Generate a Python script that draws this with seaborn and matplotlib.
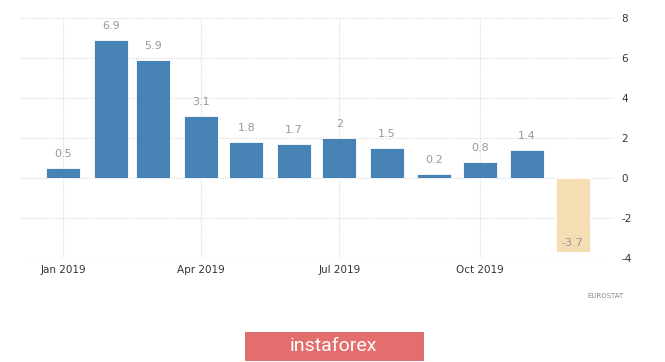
import matplotlib
matplotlib.use("Agg")
import matplotlib.pyplot as plt
import matplotlib.dates as mdates
from matplotlib.patches import Rectangle
import seaborn as sns
import pandas as pd
import numpy as np

months = ["2019-01-01", "2019-02-01", "2019-03-01", "2019-04-01", "2019-05-01", "2019-06-01",
          "2019-07-01", "2019-08-01", "2019-09-01", "2019-10-01", "2019-11-01", "2019-12-01"]
values = [0.5, 6.9, 5.9, 3.1, 1.8, 1.7, 2.0, 1.5, 0.2, 0.8, 1.4, -3.7]
labels = ["0.5", "6.9", "5.9", "3.1", "1.8", "1.7", "2", "1.5", "0.2", "0.8", "1.4", "-3.7"]
tick_dates = ["2019-01-01", "2019-04-01", "2019-07-01", "2019-10-01"]
tick_labels = ["Jan 2019", "Apr 2019", "Jul 2019", "Oct 2019"]
y_ticks = [-4, -2, 0, 2, 4, 6, 8]

sns.set_theme(style="white")
plt.rcParams['font.family'] = ['DejaVu Sans']

xnum = mdates.date2num(pd.to_datetime(months))
df = pd.DataFrame({"x": xnum, "y": values,
                   "sign": ["pos" if v >= 0 else "neg" for v in values]})

fig = plt.figure(figsize=(6.65, 3.62), dpi=100)
ax = fig.add_axes([0.030, 0.2873, 0.892, 0.663])

sns.barplot(data=df, x="x", y="y", hue="sign", native_scale=True,
            palette={"pos": "#4682B4", "neg": "#F5DEB3"}, dodge=False,
            legend=False, ax=ax, width=0.8, linewidth=0.6, edgecolor="white",
            saturation=1)

jan1 = mdates.date2num(pd.Timestamp("2019-01-01"))
ax.set_xlim(jan1 - 28.5, jan1 + 273 + 87.5)
ax.set_ylim(-4, 8)

tnum = mdates.date2num(pd.to_datetime(tick_dates))
ax.set_xticks(tnum)
ax.set_xticklabels(tick_labels, fontsize=7.5, color="#333333")
ax.set_yticks(y_ticks)
ax.set_yticklabels([str(t) for t in y_ticks], fontsize=7.5, color="#333333")
ax.yaxis.tick_right()
ax.tick_params(axis="both", length=0, pad=5)
ax.tick_params(axis="y", pad=6)
ax.set_xlabel("")
ax.set_ylabel("")

ax.grid(True, axis="both", color="#dddddd", linestyle=(0, (1, 1)), linewidth=0.8)
ax.set_axisbelow(True)
for s in ax.spines.values():
    s.set_visible(False)

for xv, v, lab in zip(xnum, values, labels):
    if v >= 0:
        ax.text(xv, v + 0.45, lab, ha="center", va="bottom", fontsize=8, color="#999999")
    else:
        ax.text(xv, v + 0.2, lab, ha="center", va="bottom", fontsize=8, color="#999999")

fig.text(0.884, 0.182, "EUROSTAT", fontsize=5, color="#888888", ha="left", va="center")

fig.patches.append(Rectangle((244.5 / 665, 1 - 360 / 362), (422.6 - 244.5) / 665, 28 / 362,
                             transform=fig.transFigure, facecolor="#E46E6E",
                             edgecolor="#D06060", linewidth=0.6, zorder=1))
fig.text((244.5 + 422.6) / 2 / 665, 1 - 346 / 362, "instaforex", fontsize=14,
         color="white", ha="center", va="center", zorder=2, family="Roboto")

fig.savefig("out.png", dpi=100, facecolor="white")
